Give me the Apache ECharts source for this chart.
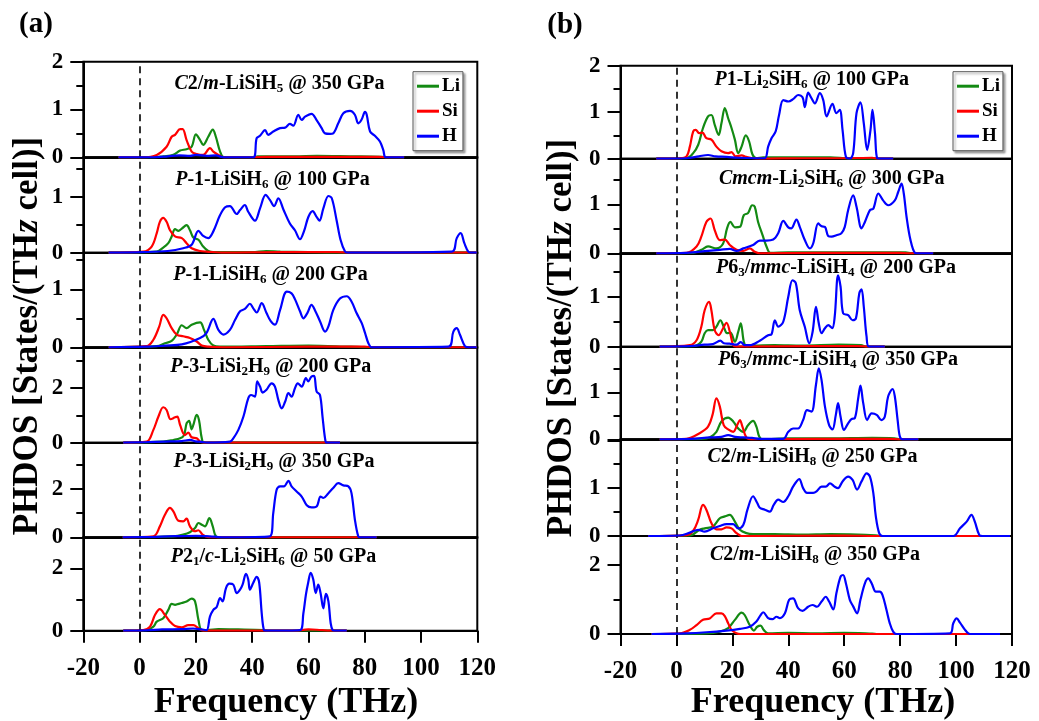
<!DOCTYPE html>
<html>
<head>
<meta charset="utf-8">
<script src="https://cdn.jsdelivr.net/npm/echarts@6/dist/echarts.min.js"></script>
<style>
  html, body { margin: 0; padding: 0; background: #fff; }
  #chart { width: 1039px; height: 721px; }
</style>
</head>
<body>
<div id="chart"></div>
<script>
// ---------- data: phonon DOS per element, [frequency THz, states/(THz cell)] ----------
const freqTicks = [-20, 0, 20, 40, 60, 80, 100, 120];
const elements = ['Li', 'Si', 'H'];

// (a) column
const titlesA = [
  '{i|C}2/{i|m}-LiSiH{s|5} @ 350 GPa',
  '{i|P}-1-LiSiH{s|6} @ 100 GPa',
  '{i|P}-1-LiSiH{s|6} @ 200 GPa',
  '{i|P}-3-LiSi{s|2}H{s|9} @ 200 GPa',
  '{i|P}-3-LiSi{s|2}H{s|9} @ 350 GPa',
  '{i|P}2{s|1}/{i|c}-Li{s|2}SiH{s|6} @ 50 GPa'
];
const yMaxA = [2, 1.7, 1.63, 3.5, 3.9, 3];
const yStepA = [1, 1, 1, 2, 2, 2];
const yLabelsA = [[0, 1, 2], [0, 1], [0, 1], [0, 2], [0, 2], [0, 2]];

const liA1 = [[-7.5,0],[5,0],[8.4,0.02],[12.0,0.05],[14.4,0.14],[16.7,0.17],[18.5,0.22],[20.0,0.48],[21.5,0.36],[22.6,0.26],[24.4,0.43],[26.0,0.58],[27.1,0.43],[28.6,0.12],[30.0,0],[40,0],[42,0.02],[55,0.02],[63,0.03],[75,0.02],[86,0.01],[88,0],[94,0]];
const siA1 = [[-7.5,0],[1.3,0],[6.1,0.05],[9.6,0.22],[11.4,0.43],[12.6,0.47],[14.4,0.59],[15.3,0.59],[16.7,0.36],[18.5,0.12],[20.3,0.07],[22.6,0.05],[25.0,0.19],[26.2,0.12],[28.0,0.05],[29.8,0],[40,0],[45,0.01],[60,0.01],[75,0.01],[85,0.01],[88,0],[94,0]];
const hA1 = [[-7.5,0],[5,0],[10,0.02],[14,0.04],[18,0.03],[20,0.05],[24,0.03],[27,0.04],[30,0],[40.4,0],[41.6,0.40],[42.8,0.45],[44.6,0.57],[45.7,0.47],[47.5,0.54],[49.9,0.61],[51.7,0.62],[53.4,0.70],[54.6,0.66],[56.4,0.89],[57.6,0.78],[58.8,0.85],[61.1,0.91],[62.9,0.78],[64.7,0.61],[65.9,0.50],[67.7,0.49],[68.8,0.50],[70.6,0.71],[72.4,0.92],[74.8,0.97],[76.5,0.89],[77.7,0.71],[78.9,0.79],[80.1,0.95],[80.7,0.89],[81.9,0.54],[83.6,0.45],[85.4,0.33],[86.6,0.15],[87.5,0],[94,0]];

const liA2 = [[-11,0],[6.1,0.02],[8.4,0.09],[10.2,0.17],[11.4,0.29],[12.6,0.42],[13.8,0.39],[15.0,0.43],[16.7,0.49],[17.9,0.40],[19.1,0.27],[20.9,0.23],[22.6,0.11],[24.4,0.03],[26.2,0.01],[40,0.01],[45,0.03],[50,0.02],[60,0.01],[72,0],[119.8,0]];
const siA2 = [[-11,0],[1.3,0.02],[4.3,0.11],[6.1,0.35],[7.2,0.55],[8.4,0.62],[9.6,0.55],[10.8,0.40],[12.6,0.29],[15.0,0.26],[16.7,0.17],[18.5,0.08],[21.5,0.03],[23.8,0.02],[30,0],[50,0.01],[70,0.01],[74,0],[119.8,0]];
const hA2 = [[-11,0],[1.3,0.01],[10,0.03],[15.5,0.08],[18.5,0.14],[20.9,0.39],[22.6,0.30],[24.4,0.26],[26.2,0.38],[28.6,0.67],[30.4,0.81],[32.1,0.83],[34.5,0.69],[35.7,0.76],[37.4,0.85],[38.6,0.73],[41.0,0.57],[42.8,0.79],[44.8,1.03],[46.3,0.94],[47.8,0.83],[49.3,0.97],[51.1,0.77],[53.4,0.52],[55.2,0.40],[57.0,0.24],[58.4,0.38],[60.0,0.64],[61.5,0.74],[62.9,0.64],[63.9,0.57],[65.3,0.79],[67.1,1.01],[68.3,0.97],[70.0,0.58],[71.4,0.23],[73.0,0.02],[74,0],[110.9,0.02],[112.7,0.26],[114.1,0.35],[115.4,0.17],[116.8,0.02],[118,0],[119.8,0]];

const liA3 = [[-11,0],[6.1,0.02],[9.0,0.07],[11.4,0.11],[13.2,0.22],[15.0,0.38],[16.7,0.33],[18.5,0.39],[21.5,0.43],[22.9,0.30],[24.4,0.13],[26.2,0.03],[28.6,0.01],[45,0.02],[60,0.03],[75,0.01],[82,0],[119.8,0]];
const siA3 = [[-11,0],[2.5,0.02],[4.9,0.13],[7.0,0.36],[8.4,0.56],[9.6,0.50],[11.4,0.33],[13.2,0.22],[15.5,0.19],[17.9,0.16],[20.3,0.10],[22.1,0.03],[24.4,0.01],[30,0],[60,0.01],[80,0.01],[83,0],[119.8,0]];
const hA3 = [[-11,0],[2.5,0.01],[9,0.03],[15,0.05],[21.5,0.16],[23.8,0.25],[26.2,0.49],[28.0,0.30],[29.8,0.22],[32.1,0.30],[33.9,0.47],[35.7,0.62],[37.4,0.66],[39.2,0.75],[40.4,0.67],[41.6,0.60],[43.4,0.76],[45.1,0.59],[46.6,0.45],[48.1,0.39],[49.9,0.64],[52.3,0.96],[54.0,0.93],[55.2,0.83],[57.0,0.62],[58.2,0.50],[59.6,0.59],[61.1,0.73],[62.3,0.64],[64.1,0.45],[65.9,0.27],[67.1,0.36],[68.8,0.64],[71.2,0.84],[73.6,0.88],[75.3,0.79],[77.1,0.59],[78.9,0.42],[80.1,0.25],[81.3,0.07],[82.5,0],[109.7,0.01],[111.5,0.27],[112.7,0.33],[113.8,0.22],[115.6,0.02],[117,0],[119.8,0]];

const liA4 = [[-5.8,0],[8.4,0.04],[12.0,0.10],[14.4,0.16],[15.8,0.28],[16.7,0.71],[17.6,0.80],[18.5,0.49],[19.1,0.65],[20.3,1.02],[21.1,0.83],[22.1,0.16],[22.9,0],[71.2,0]];
const siA4 = [[-5.8,0],[2.5,0.04],[4.9,0.47],[6.7,0.96],[8.4,1.30],[9.6,1.20],[11.0,0.86],[12.6,0.93],[13.4,0.96],[14.4,0.65],[16.1,0.28],[17.3,0.37],[18.5,0.20],[20.3,0.16],[21.5,0.04],[23,0],[71.2,0]];
const hA4 = [[-5.8,0],[2.5,0.02],[9,0.04],[15,0.06],[18,0.10],[20,0.05],[22,0.03],[24,0],[32.1,0.04],[33.3,0.16],[35.1,0.47],[36.9,0.96],[38.6,1.63],[39.6,1.75],[41.0,1.69],[41.8,2.25],[42.8,2.06],[43.7,1.84],[45.1,1.94],[46.9,2.18],[48.1,2.06],[49.3,1.57],[50.5,1.26],[51.7,1.50],[52.9,1.82],[54.0,1.69],[55.2,2.00],[56.2,2.18],[57.6,2.06],[59.1,2.37],[59.9,2.25],[61.1,2.43],[62.0,2.45],[62.9,1.88],[64.1,1.75],[65.0,0.96],[65.9,0.16],[66.5,0],[71.2,0]];

const liA5 = [[-6,0],[12.0,0.04],[15.5,0.11],[17.9,0.21],[19.7,0.38],[20.9,0.59],[22.1,0.52],[23.2,0.45],[24.8,0.79],[26.0,0.45],[26.8,0.11],[27.6,0],[84.2,0]];
const siA5 = [[-6,0],[4.9,0.04],[7.2,0.45],[9.0,0.93],[10.8,1.21],[12.0,1.07],[13.8,0.68],[15.5,0.66],[16.7,0.77],[17.9,0.45],[19.7,0.25],[20.9,0.29],[22.4,0.11],[24.4,0.01],[30,0],[84.2,0]];
const hA5 = [[-6,0],[5,0.02],[10,0.04],[15,0.05],[20,0.06],[25,0.04],[28,0.01],[30,0],[46.3,0.04],[47.5,1.00],[48.7,1.96],[49.9,2.10],[51.3,2.10],[52.9,2.33],[54.0,2.10],[55.8,1.89],[57.6,1.68],[59.4,1.32],[61.1,1.23],[62.9,1.27],[64.3,1.68],[65.3,1.62],[67.1,1.82],[68.8,2.03],[70.6,2.23],[72.4,2.14],[74.2,2.10],[75.3,1.82],[76.5,0.73],[77.7,0.04],[78.5,0],[84.2,0]];

const liA6 = [[-5.8,0],[2.5,0.02],[4.9,0.13],[6.1,0.29],[8.4,0.40],[10.2,0.67],[11.4,0.86],[12.6,0.83],[13.8,0.86],[15.0,0.89],[16.7,0.94],[18.5,1.03],[19.7,0.94],[20.9,0.35],[22.1,0.02],[24,0.02],[28,0.05],[35,0.04],[44,0.02],[46,0],[73.6,0]];
const siA6 = [[-5.8,0],[1.3,0.02],[3.7,0.13],[5.5,0.51],[7.2,0.69],[9.0,0.51],[10.8,0.29],[12.6,0.15],[15.0,0.11],[17.3,0.18],[19.1,0.18],[20.9,0.08],[22.6,0],[45,0],[55,0],[60,0.04],[63,0.03],[68,0],[73.6,0]];
const hA6 = [[-5.8,0],[2.5,0.01],[8,0.04],[15,0.05],[19,0.07],[22,0.04],[23.8,0.02],[25.0,0.45],[26.2,0.67],[27.4,0.76],[28.6,1.05],[29.5,0.94],[30.7,1.37],[31.9,1.51],[33.3,1.48],[34.5,1.21],[35.7,1.32],[36.6,1.48],[37.8,1.83],[38.6,1.65],[39.2,1.32],[40.4,1.54],[41.6,1.73],[42.5,1.54],[43.4,0.56],[44.2,0.02],[45,0],[57.0,0.02],[58.2,0.56],[59.1,1.16],[59.9,1.54],[60.8,1.86],[61.7,1.65],[62.6,1.21],[63.5,1.48],[64.3,1.21],[65.3,0.72],[66.2,1.18],[67.1,0.94],[67.9,0.24],[68.6,0.02],[69.5,0],[73.6,0]];

// (b) column
const titlesB = [
  '{i|P}1-Li{s|2}SiH{s|6} @ 100 GPa',
  '{i|Cmcm}-Li{s|2}SiH{s|6} @ 300 GPa',
  '{i|P}6{s|3}/{i|mmc}-LiSiH{s|4} @ 200 GPa',
  '{i|P}6{s|3}/{i|mmc}-LiSiH{s|4} @ 350 GPa',
  '{i|C}2/{i|m}-LiSiH{s|8} @ 250 GPa',
  '{i|C}2/{i|m}-LiSiH{s|8} @ 350 GPa'
];
const yMaxB = [2, 1.93, 1.87, 1.97, 2.02, 2.84];
const yStepB = [1, 1, 1, 1, 1, 2];
const yLabelsB = [[0, 1, 2], [0, 1], [0, 1], [0, 1], [0, 1], [0, 2]];

const liB1 = [[-7.2,0],[3.6,0.01],[6.0,0.12],[7.8,0.30],[9.5,0.66],[11.3,0.91],[12.5,0.94],[13.7,0.73],[15.1,0.51],[16.1,0.76],[17.3,1.09],[18.5,0.87],[19.7,0.66],[20.9,0.41],[22.1,0.12],[23.3,0.26],[24.8,0.50],[26.0,0.37],[27.2,0.09],[28.6,0.01],[31,0.03],[45,0.03],[55,0.03],[60,0.01],[62,0],[77.5,0]];
const siB1 = [[-7.2,0],[1.2,0.01],[3.6,0.05],[4.8,0.26],[6.0,0.59],[6.9,0.62],[8.1,0.55],[9.3,0.56],[10.7,0.44],[12.5,0.41],[14.3,0.26],[16.1,0.16],[18.5,0.12],[19.7,0.14],[21.2,0.05],[23.3,0.07],[25.0,0.04],[27.4,0.01],[30,0],[45,0.01],[60,0.01],[70,0.02],[72,0],[77.5,0]];
const hB1 = [[-7.2,0],[3.6,0.01],[8,0.05],[11.3,0.08],[14,0.05],[18,0.04],[22,0.02],[28,0.01],[31.6,0.01],[32.8,0.26],[34.0,0.44],[35.5,0.59],[36.7,0.94],[38.2,1.26],[40.0,1.23],[41.7,1.28],[43.5,1.37],[45.1,1.32],[45.9,1.11],[47.1,1.42],[48.3,1.30],[49.5,1.19],[51.3,1.41],[52.5,1.26],[53.7,0.91],[55.8,1.18],[57.2,0.98],[58.4,1.05],[59.4,0.62],[60.6,0.04],[62.0,0],[63.2,0.12],[64.4,0.98],[65.8,1.21],[67.0,0.76],[68.2,0.19],[69.4,0.62],[70.1,1.05],[71.0,0.55],[71.8,0.01],[73,0],[77.5,0]];

const liB2 = [[-7.2,0],[6.0,0.01],[8.9,0.07],[11.3,0.14],[14.3,0.10],[16.7,0.20],[18.1,0.51],[19.3,0.64],[20.9,0.53],[22.7,0.54],[24.1,0.78],[25.6,0.82],[27.1,0.98],[28.0,0.95],[29.2,0.64],[30.8,0.37],[32.2,0.14],[33.6,0.01],[40,0.02],[60,0.02],[82,0.02],[84,0],[91.8,0]];
const siB2 = [[-7.2,0],[3.6,0.01],[7.2,0.14],[8.9,0.34],[10.7,0.64],[12.2,0.71],[13.7,0.47],[15.5,0.27],[17.3,0.28],[19.1,0.17],[21.5,0.07],[23.9,0.05],[26.2,0.10],[28.0,0.03],[29.8,0],[50,0.01],[80,0.01],[83,0],[91.8,0]];
const hB2 = [[-7.2,0],[3.6,0.01],[11.3,0.05],[15.5,0.07],[19.1,0.09],[21.5,0.05],[23.9,0.10],[27.4,0.17],[29.8,0.26],[32.2,0.26],[34.6,0.28],[36.4,0.41],[38.2,0.66],[40.0,0.53],[41.1,0.51],[42.9,0.69],[44.1,0.54],[45.9,0.27],[47.7,0.10],[48.9,0.20],[50.7,0.61],[51.9,0.55],[53.1,0.54],[54.3,0.35],[55.5,0.34],[57.2,0.37],[59.0,0.41],[60.2,0.54],[61.4,0.88],[63.2,1.18],[64.4,0.95],[66.2,0.51],[67.4,0.64],[69.2,0.88],[70.4,0.91],[72.2,1.22],[73.9,1.08],[75.7,0.98],[78.1,1.08],[79.3,1.25],[80.5,1.42],[81.3,1.22],[82.3,0.74],[83.7,0.27],[85.3,0.01],[86.5,0],[91.8,0]];

const liB3 = [[-6,0],[6.0,0.01],[8.9,0.10],[10.1,0.27],[11.3,0.33],[13.1,0.33],[14.3,0.40],[15.7,0.53],[16.9,0.40],[18.1,0.27],[19.3,0.28],[20.9,0.10],[22.1,0.30],[23.0,0.47],[24.1,0.10],[25.0,0.01],[28,0.02],[35,0.03],[45,0.02],[58,0.04],[66,0.03],[68,0],[74.5,0]];
const siB3 = [[-6,0],[4.8,0.03],[7.2,0.13],[8.9,0.40],[10.1,0.73],[11.7,0.90],[12.5,0.73],[13.7,0.33],[15.1,0.23],[16.7,0.37],[17.9,0.48],[19.1,0.30],[20.3,0.03],[21.5,0],[50,0.01],[65,0.01],[69,0],[74.5,0]];
const hB3 = [[-6,0],[4.8,0.01],[10,0.04],[13,0.05],[15.7,0.12],[17,0.07],[19,0.06],[21.5,0.04],[23,0.09],[24.5,0.03],[26.2,0.03],[29.8,0.12],[32.8,0.23],[34.0,0.25],[35.2,0.53],[36.4,0.40],[38.2,0.50],[40.0,1.00],[41.5,1.33],[42.7,1.27],[44.1,0.73],[45.9,0.40],[47.5,0.07],[48.7,0.30],[49.9,0.80],[50.9,0.47],[51.9,0.27],[53.1,0.37],[54.3,0.43],[55.7,0.37],[56.6,0.60],[57.8,1.43],[58.7,1.20],[59.6,0.67],[61.4,0.63],[63.0,0.53],[64.2,0.57],[65.4,1.07],[66.2,1.15],[67.0,0.80],[68.0,0.20],[68.9,0],[74.5,0]];

const liB4 = [[-6,0],[8.9,0.01],[11.9,0.04],[14.3,0.16],[16.1,0.38],[18.5,0.46],[20.3,0.38],[22.1,0.23],[23.9,0.16],[25.6,0.30],[27.4,0.39],[28.6,0.27],[29.6,0.06],[30.8,0],[40,0.02],[55,0.02],[70,0.03],[78,0.02],[80,0],[86.5,0]];
const siB4 = [[-6,0],[3.6,0.01],[8.3,0.13],[11.3,0.27],[12.9,0.52],[14.3,0.87],[15.5,0.70],[16.9,0.30],[18.5,0.21],[20.3,0.16],[21.7,0.30],[22.7,0.41],[23.6,0.27],[25.0,0.04],[26.8,0],[50,0.01],[76,0.01],[80,0],[86.5,0]];
const hB4 = [[-6,0],[5,0.01],[12,0.04],[16,0.05],[18.5,0.09],[21,0.05],[24,0.04],[27,0.03],[30,0.01],[38.2,0.01],[40.0,0.16],[41.7,0.23],[43.5,0.23],[45.3,0.41],[46.7,0.62],[48.3,0.59],[49.9,1.16],[50.9,1.51],[51.9,1.26],[53.1,0.70],[54.6,0.30],[55.8,0.21],[57.0,0.52],[57.8,0.77],[58.7,0.48],[59.9,0.20],[61.4,0.34],[62.6,0.43],[63.8,0.45],[65.0,0.87],[65.8,1.14],[66.8,0.77],[68.2,0.41],[69.8,0.55],[71.6,0.52],[73.3,0.41],[74.5,0.48],[75.7,0.91],[77.3,1.07],[78.1,0.91],[79.1,0.41],[79.9,0.06],[80.9,0],[86.5,0]];

const liB5 = [[-10.1,0],[4.8,0.01],[8.3,0.13],[10.1,0.16],[13.1,0.20],[15.5,0.37],[17.3,0.41],[19.1,0.44],[20.9,0.30],[22.7,0.13],[25.0,0.06],[27.4,0.04],[35,0.04],[45,0.03],[55,0.04],[65,0.03],[72,0.01],[74,0],[119.3,0]];
const siB5 = [[-10.1,0],[3.6,0.02],[6.0,0.11],[7.8,0.34],[9.5,0.65],[10.7,0.55],[12.5,0.27],[14.3,0.14],[16.1,0.14],[17.9,0.18],[19.7,0.16],[21.5,0.06],[23.3,0],[60,0.01],[72,0],[119.3,0]];
const hB5 = [[-10.1,0],[1.2,0.01],[4.8,0.07],[7.8,0.13],[10.1,0.09],[13.1,0.16],[15.5,0.21],[17.9,0.25],[20.3,0.25],[22.1,0.16],[23.9,0.23],[25.4,0.55],[27.4,0.83],[28.9,0.69],[29.8,0.59],[31.6,0.55],[33.4,0.51],[34.8,0.65],[36.4,0.76],[38.2,0.71],[40.0,0.83],[41.7,1.03],[43.9,1.19],[45.3,1.00],[46.7,0.90],[48.9,0.90],[50.1,0.93],[51.9,1.03],[53.4,1.03],[54.9,1.10],[56.6,1.03],[57.8,1.00],[59.4,1.14],[61.4,1.24],[63.0,1.17],[64.6,0.97],[66.2,1.14],[68.0,1.31],[69.2,1.24],[70.4,0.90],[71.3,0.41],[72.5,0.06],[73.7,0],[99.0,0],[101.4,0.16],[103.8,0.30],[105.5,0.44],[106.7,0.30],[108.3,0.02],[109.5,0],[119.3,0]];

const liB6 = [[-8.9,0],[10.7,0.02],[15.5,0.07],[18.5,0.17],[20.9,0.41],[23.3,0.62],[24.4,0.55],[26.2,0.26],[27.7,0.10],[28.9,0.21],[30.1,0.24],[31.2,0.12],[32.8,0.02],[40,0.03],[50,0.02],[60,0.03],[70,0.01],[72,0],[115.7,0]];
const siB6 = [[-8.9,0],[1.2,0.02],[4.8,0.12],[7.2,0.26],[9.5,0.41],[11.9,0.45],[14.3,0.60],[16.1,0.60],[17.3,0.52],[18.5,0.31],[19.7,0.12],[21.5,0.02],[23,0],[115.7,0]];
const hB6 = [[-8.9,0],[3.6,0.02],[10.7,0.05],[17.9,0.10],[22.7,0.15],[26.2,0.21],[28.6,0.36],[30.1,0.55],[31.0,0.63],[32.8,0.46],[34.3,0.43],[35.8,0.50],[37.0,0.46],[38.8,0.60],[40.3,0.99],[41.7,1.03],[43.5,0.75],[45.1,0.67],[47.1,0.79],[48.7,0.84],[50.3,0.79],[51.9,0.94],[53.4,1.08],[54.6,0.94],[56.1,0.71],[57.2,1.18],[58.7,1.66],[59.6,1.71],[60.6,1.47],[62.0,0.99],[63.2,0.80],[64.6,0.60],[65.8,0.99],[67.4,1.47],[68.6,1.61],[69.8,1.47],[71.3,1.23],[72.7,1.23],[73.7,1.13],[75.1,0.70],[76.3,0.31],[77.5,0.07],[78.7,0],[97.8,0.02],[99.0,0.31],[100.2,0.45],[101.4,0.33],[103.2,0.12],[104.4,0.02],[105.5,0],[115.7,0]];

const curvesA = [[liA1, siA1, hA1], [liA2, siA2, hA2], [liA3, siA3, hA3], [liA4, siA4, hA4], [liA5, siA5, hA5], [liA6, siA6, hA6]];
const curvesB = [[liB1, siB1, hB1], [liB2, siB2, hB2], [liB3, siB3, hB3], [liB4, siB4, hB4], [liB5, siB5, hB5], [liB6, siB6, hB6]];

// ---------- layout & style ----------
const FONT = '"Liberation Serif", "Times New Roman", serif';
const COLORS = { Li: '#138a13', Si: '#ff0000', H: '#0000ff' };

const columns = [
  {
    left: 83.3, width: 394,
    edges: [61.7, 157.3, 252.7, 347.3, 442.7, 537.3, 630.7],
    titles: titlesA, yMax: yMaxA, yStep: yStepA, yLabels: yLabelsA, curves: curvesA,
    titlePos: [[279.5, 84], [272.5, 180], [270.5, 275], [270.8, 367], [274, 462], [273.5, 557]],
    tag: '(a)', tagPos: [36, 25], yTitlePos: [28, 336], xTitlePos: [286, 703],
    legendPos: [413, 71.7]
  },
  {
    left: 620.5, width: 391.5,
    edges: [65.7, 158.7, 253.3, 346.7, 439.3, 536, 634],
    titles: titlesB, yMax: yMaxB, yStep: yStepB, yLabels: yLabelsB, curves: curvesB,
    titlePos: [[811.7, 80], [831.7, 179.3], [836, 268.3], [838, 360], [812.5, 456.7], [815, 555]],
    tag: '(b)', tagPos: [565, 26], yTitlePos: [562, 338], xTitlePos: [823, 703],
    legendPos: [953, 71.7]
  }
];

const grid = [], xAxis = [], yAxis = [], series = [], graphic = [], legend = [];

const titleRich = {
  i: { fontFamily: FONT, fontWeight: 'bold', fontStyle: 'italic', fontSize: 20, color: '#000' },
  s: { fontFamily: FONT, fontWeight: 'bold', fontSize: 13, color: '#000', padding: [9, 0, 0, 0] }
};

columns.forEach((col) => {
  for (let p = 0; p < 6; p++) {
    const idx = grid.length;
    const top = col.edges[p], bottom = col.edges[p + 1];
    const isBottom = p === 5;
    grid.push({
      left: col.left, top: top, width: col.width, height: bottom - top,
      show: true, borderColor: '#000', borderWidth: 2, backgroundColor: 'transparent'
    });
    xAxis.push({
      type: 'value', gridIndex: idx, min: freqTicks[0], max: freqTicks[freqTicks.length - 1], interval: 20,
      splitLine: { show: false },
      axisLine: { show: true, onZero: false, lineStyle: { color: '#000', width: 2 } },
      axisTick: { show: isBottom, length: 12, lineStyle: { color: '#000', width: 2 } },
      axisLabel: {
        show: isBottom, margin: 25, color: '#000', fontFamily: FONT, fontWeight: 'bold', fontSize: 25,
        formatter: v => freqTicks.indexOf(v) >= 0 ? String(v) : ''
      }
    });
    const labels = col.yLabels[p];
    // labelled long ticks plus short half-step minor ticks
    yAxis.push({
      type: 'value', gridIndex: idx, min: 0, max: col.yMax[p], interval: col.yStep[p], position: 'left',
      splitLine: { show: false },
      axisLine: { show: true, onZero: false, lineStyle: { color: '#000', width: 2 } },
      axisTick: { show: true, length: 13, lineStyle: { color: '#000', width: 2 } },
      minorTick: { show: true, splitNumber: 2, length: 7, lineStyle: { color: '#000', width: 2 } },
      minorSplitLine: { show: false },
      axisLabel: {
        margin: 20, color: '#000', fontFamily: FONT, fontWeight: 'bold', fontSize: 23,
        formatter: v => labels.indexOf(v) >= 0 ? String(v) : ''
      }
    });
    elements.forEach((el, e) => {
      const s = {
        name: el, type: 'line', xAxisIndex: idx, yAxisIndex: idx,
        data: col.curves[p][e], showSymbol: false, smooth: 0.35,
        lineStyle: { color: COLORS[el], width: 2.2 }, itemStyle: { color: COLORS[el] },
        silent: true, z: 3 + e
      };
      if (e === 2) {
        s.markLine = {
          silent: true, symbol: ['none', 'none'], label: { show: false },
          lineStyle: { color: '#000', type: [7, 5], width: 1.6 },
          data: [{ xAxis: 0 }]
        };
      }
      series.push(s);
    });
    graphic.push({
      type: 'text', x: col.titlePos[p][0], y: col.titlePos[p][1], z: 20,
      style: {
        text: col.titles[p], rich: titleRich, align: 'center', verticalAlign: 'middle',
        fontFamily: FONT, fontWeight: 'bold', fontSize: 20, fill: '#000'
      }
    });
  }

  // panel tag
  graphic.push({
    type: 'text', x: col.tagPos[0], y: col.tagPos[1],
    style: { text: col.tag, align: 'center', verticalAlign: 'middle', fontFamily: FONT, fontWeight: 'bold', fontSize: 29, fill: '#000' }
  });
  // y-axis title, rotated
  graphic.push({
    type: 'text', x: col.yTitlePos[0], y: col.yTitlePos[1], rotation: Math.PI / 2,
    style: {
      text: '{n|PHDOS [States/(TH}{z|z}{n| cell)]}', align: 'center', verticalAlign: 'middle',
      rich: {
        n: { fontFamily: FONT, fontWeight: 'bold', fontSize: 35, color: '#000' },
        z: { fontFamily: FONT, fontWeight: 'bold', fontStyle: 'italic', fontSize: 35, color: '#000' }
      }
    }
  });
  // x-axis title
  graphic.push({
    type: 'text', x: col.xTitlePos[0], y: col.xTitlePos[1],
    style: { text: 'Frequency (THz)', align: 'center', verticalAlign: 'middle', fontFamily: FONT, fontWeight: 'bold', fontSize: 36, fill: '#000' }
  });

  legend.push({
    data: elements, orient: 'vertical', left: col.legendPos[0], top: col.legendPos[1],
    icon: 'rect', itemWidth: 22, itemHeight: 3, itemGap: 6,
    padding: [5, 3, 5, 4], borderColor: '#555', borderWidth: 1, backgroundColor: '#fff',
    shadowColor: 'rgba(0,0,0,0.35)', shadowBlur: 2, shadowOffsetX: 2, shadowOffsetY: 2,
    selectedMode: false, z: 10,
    textStyle: { fontFamily: FONT, fontWeight: 'bold', fontSize: 19, color: '#000', padding: [0, 0, 0, -2] }
  });
});

const chart = echarts.init(document.getElementById('chart'), null, { renderer: 'canvas' });
chart.setOption({
  animation: false,
  backgroundColor: '#fff',
  grid, xAxis, yAxis, series, graphic, legend
});
</script>
</body>
</html>
